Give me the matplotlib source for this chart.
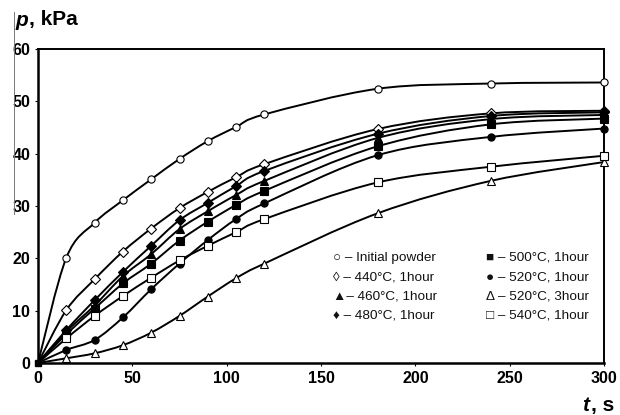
import numpy as np
import matplotlib
matplotlib.use("Agg")
import matplotlib.pyplot as plt
from matplotlib.path import Path
from matplotlib.patches import PathPatch
from matplotlib.lines import Line2D

plt.rcParams['font.family'] = ['Liberation Sans', 'DejaVu Sans']

t = [0, 15, 30, 45, 60, 75, 90, 105, 120, 180, 240, 300]

initial_powder = [0, 20.1, 26.8, 31.1, 35.1, 39.0, 42.4, 45.1, 47.5, 52.4, 53.4, 53.6]
c440_1h = [0, 10.1, 16.0, 21.3, 25.7, 29.6, 32.7, 35.5, 38.0, 44.7, 47.7, 48.2]
c460_1h = [0, 6.0, 11.0, 16.6, 20.8, 25.6, 29.0, 32.1, 34.8, 43.0, 46.6, 47.4]
c480_1h = [0, 6.3, 12.0, 17.4, 22.4, 27.3, 30.6, 33.8, 36.7, 43.8, 47.2, 47.9]
c500_1h = [0, 5.5, 10.4, 15.2, 19.0, 23.4, 27.0, 30.2, 32.9, 41.4, 45.6, 46.7]
c520_1h = [0, 2.5, 4.4, 8.7, 14.1, 19.0, 23.5, 27.5, 30.5, 39.7, 43.2, 44.8]
c520_3h = [0, 0.9, 1.85, 3.4, 5.8, 9.0, 12.7, 16.2, 19.0, 28.6, 34.8, 38.4]
c540_1h = [0, 4.7, 9.0, 12.8, 16.3, 19.6, 22.4, 25.0, 27.5, 34.5, 37.5, 39.6]

series = [
    (initial_powder, 'o', 'white'),
    (c440_1h, 'D', 'white'),
    (c460_1h, '^', 'black'),
    (c480_1h, 'D', 'black'),
    (c500_1h, 's', 'black'),
    (c520_1h, 'o', 'black'),
    (c520_3h, '^', 'white'),
    (c540_1h, 's', 'white'),
]

legend_left = ["\u25CB \u2013 Initial powder", "\u25CA \u2013 440\u00B0C, 1hour",
               "\u25B2\u2013 460\u00B0C, 1hour", "\u2666 \u2013 480\u00B0C, 1hour"]
legend_right = ["\u25A0 \u2013 500\u00B0C, 1hour", "\u25CF \u2013 520\u00B0C, 1hour",
                "\u0394 \u2013 520\u00B0C, 3hour", "\u25A1 \u2013 540\u00B0C, 1hour"]

x_ticks = [0, 50, 100, 150, 200, 250, 300]
y_ticks = [0, 10, 20, 30, 40, 50, 60]


def smooth_path(x, y, k=1/6):
    x = np.asarray(x, float)
    y = np.asarray(y, float)
    n = len(x)
    verts = [(x[0], y[0])]
    codes = [Path.MOVETO]
    for i in range(n - 1):
        p0 = np.array([x[max(i - 1, 0)], y[max(i - 1, 0)]])
        p1 = np.array([x[i], y[i]])
        p2 = np.array([x[i + 1], y[i + 1]])
        p3 = np.array([x[min(i + 2, n - 1)], y[min(i + 2, n - 1)]])
        c1 = p1 + (p2 - p0) * k
        c2 = p2 - (p3 - p1) * k
        verts += [tuple(c1), tuple(c2), tuple(p2)]
        codes += [Path.CURVE4] * 3
    return Path(verts, codes)


W, H = 620, 415
fig = plt.figure(figsize=(6.2, 4.15), dpi=100)
ax = fig.add_axes([38 / W, 1 - 363 / H, (604 - 38) / W, (363 - 49) / H])

for vals, mk, fc in series:
    ax.add_patch(PathPatch(smooth_path(t, vals), fill=False, edgecolor='black',
                           lw=1.4, zorder=2, capstyle='round', joinstyle='round'))
    ms = 4.6 if mk == 'D' else 5.2
    ax.plot(t[1:], vals[1:], linestyle='none', marker=mk, markersize=ms,
            markerfacecolor=fc, markeredgecolor='black', markeredgewidth=0.8, zorder=3,
            clip_on=False)
ax.plot([0], [0], linestyle='none', marker='s', markersize=5, color='black', zorder=4, clip_on=False)

ax.set_xlim(0, 300)
ax.set_ylim(0, 60)
ax.set_xticks(x_ticks)
ax.set_yticks(y_ticks)
ax.tick_params(axis='both', direction='out', length=2.5, width=0.8, labelsize=11.5, pad=3)
for lab in ax.get_xticklabels() + ax.get_yticklabels():
    lab.set_fontweight('bold')
for side in ['left', 'bottom']:
    ax.spines[side].set_linewidth(1.8)
for side in ['top', 'right']:
    ax.spines[side].set_linewidth(1.4)

# axis titles
fig.text(15 / W, 1 - 20 / H, "p", fontsize=15, va='center', ha='left',
         fontweight='bold', style='italic')
fig.text(29 / W, 1 - 20 / H, ", kPa", fontsize=15, va='center', ha='left',
         fontweight='bold')
fig.text(614 / W, 1 - 405 / H, ", s", fontsize=15, va='center', ha='right',
         fontweight='bold')
fig.text(589 / W, 1 - 405 / H, "t", fontsize=15, va='center', ha='right',
         fontweight='bold', style='italic')

# scan artifact line at left
fig.add_artist(Line2D([14 / W, 14 / W], [1 - 12 / H, 1 - 214 / H], color='#777777', lw=0.7))

for i, s in enumerate(legend_left):
    fig.text(333 / W, 1 - (258 + 19 * i) / H, s, fontsize=9.7, va='center', ha='left',
             color='#111111')
for i, s in enumerate(legend_right):
    fig.text(486 / W, 1 - (258 + 19 * i) / H, s, fontsize=9.7, va='center', ha='left',
             color='#111111')

fig.savefig("out.png", dpi=100)
